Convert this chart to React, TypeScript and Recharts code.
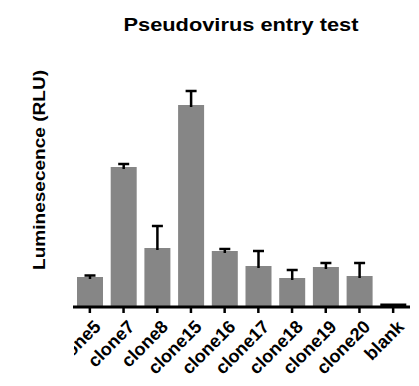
import React from 'react';
import { BarChart, Bar, XAxis, YAxis, Cell } from 'recharts';

// --- data ---
const categories = ['clone5', 'clone7', 'clone8', 'clone15', 'clone16', 'clone17', 'clone18', 'clone19', 'clone20', 'blank'];
const means = [30, 140, 59, 202, 56, 41, 29, 40, 31, 3.5];
const errorsUp = [1.5, 3, 22, 14, 2, 15, 8, 4, 13, 0];

const chartData = categories.map((name, i) => ({
    name,
    value: means[i],
    errUp: errorsUp[i],
}));

const FONT = 'Arial, "Liberation Sans", Helvetica, sans-serif';
const barFill = (name: string) => (name === 'blank' ? '#000' : '#868686');

// upper error arm only (stacked on top of the mean bar), drawn as a "T"
const ErrorCap = (props: any) => {
    const { x, y, width, height } = props;
    if (!height || height <= 0) return null;
    const cx = x + width / 2;
    return (
        <g stroke="#000" strokeWidth={2.5} fill="none">
            <line x1={cx} x2={cx} y1={y} y2={y + height + 2} />
            <line x1={cx - 5.5} x2={cx + 5.5} y1={y} y2={y} />
        </g>
    );
};

// rotated category label, clipped at the y axis like the original
const AngledTick = (props: any) => {
    const { x, y, payload, index } = props;
    return (
        <g>
            {index === 0 && (
                <defs>
                    <clipPath id="tickClip" clipPathUnits="userSpaceOnUse">
                        <rect x={74} y={300} width={360} height={100} />
                    </clipPath>
                </defs>
            )}
            <g clipPath="url(#tickClip)">
                <g transform={`translate(${x + 3},${y + 4})`}>
                    <text
                        textAnchor="end"
                        transform="rotate(-45)"
                        dy="0.7em"
                        fontFamily={FONT}
                        fontWeight="bold"
                        fontSize={18}
                        fill="#000"
                    >
                        {payload.value}
                    </text>
                </g>
            </g>
        </g>
    );
};

const App: React.FC = () => {
    return (
        <div style={{ position: 'absolute', left: 0, top: 0, width: 419, height: 386, background: '#fff' }}>
            <BarChart
                width={419}
                height={386}
                data={chartData}
                margin={{ top: 62, right: 9, left: 73, bottom: 0 }}
                barCategoryGap={0}
            >
                <XAxis
                    dataKey="name"
                    height={79}
                    interval={0}
                    axisLine={{ stroke: '#000', strokeWidth: 3 }}
                    tickLine={{ stroke: '#000', strokeWidth: 2.5 }}
                    tickSize={6}
                    tick={<AngledTick />}
                />
                <YAxis
                    width={0}
                    domain={[0, 245]}
                    allowDataOverflow
                    tick={false}
                    tickLine={false}
                    axisLine={{ stroke: '#000', strokeWidth: 3 }}
                />
                <Bar dataKey="value" stackId="a" barSize={26} fill="#868686" isAnimationActive={false}>
                    {chartData.map(d => (
                        <Cell key={d.name} fill={barFill(d.name)} />
                    ))}
                </Bar>
                <Bar dataKey="errUp" stackId="a" barSize={26} shape={<ErrorCap />} isAnimationActive={false} />
            </BarChart>
            {/* title and axis label */}
            <svg width={419} height={386} style={{ position: 'absolute', left: 0, top: 0, pointerEvents: 'none' }}>
                <text
                    x={241}
                    y={31}
                    textAnchor="middle"
                    fontFamily={FONT}
                    fontWeight="bold"
                    fontSize={19}
                    textLength={235}
                    lengthAdjust="spacingAndGlyphs"
                >
                    Pseudovirus entry test
                </text>
                <text
                    transform="translate(45,170) rotate(-90)"
                    textAnchor="middle"
                    fontFamily={FONT}
                    fontWeight="bold"
                    fontSize={16.5}
                    textLength={200}
                    lengthAdjust="spacingAndGlyphs"
                >
                    Luminesecence (RLU)
                </text>
            </svg>
        </div>
    );
};

export default App;
